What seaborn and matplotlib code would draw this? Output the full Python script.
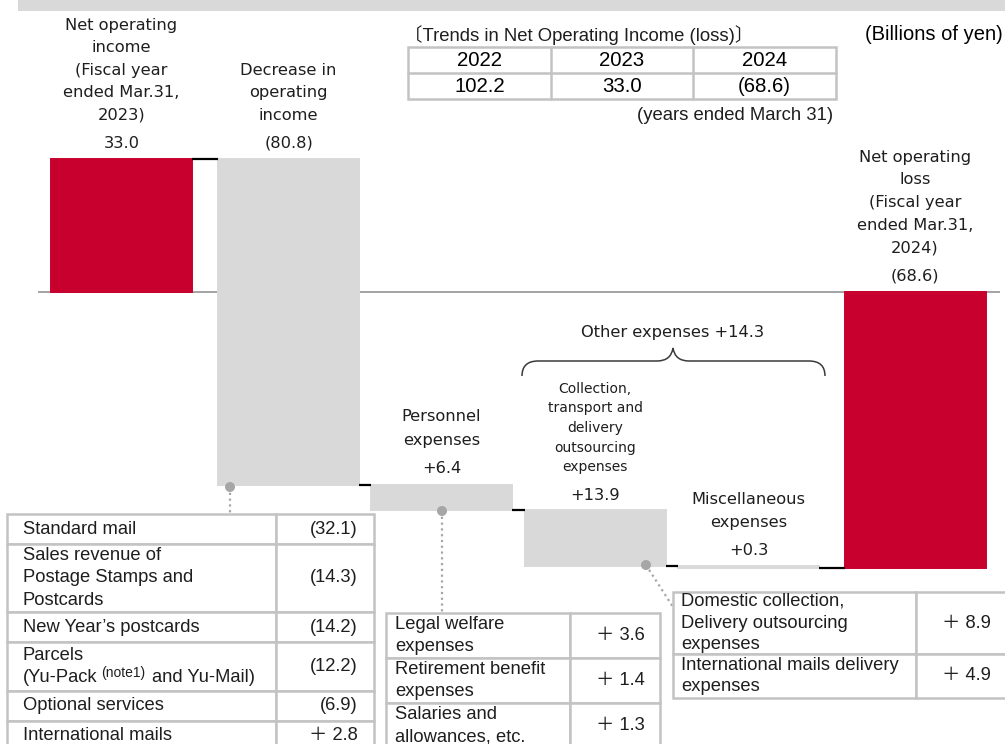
import numpy as np
import pandas as pd
import matplotlib
matplotlib.use("Agg")
import matplotlib.pyplot as plt
import seaborn as sns
from matplotlib.patches import Rectangle, Circle, PathPatch
from matplotlib.path import Path

# ---------------- data (billions of yen) ----------------
step_names = [
    "Net operating\nincome\n(Fiscal year\nended Mar.31,\n2023)",
    "Decrease in\noperating\nincome",
    "Personnel\nexpenses",
    "Collection,\ntransport and\ndelivery\noutsourcing\nexpenses",
    "Miscellaneous\nexpenses",
    "Net operating\nloss\n(Fiscal year\nended Mar.31,\n2024)",
]
start_income = 33.0
revenue_change = -80.8
expense_increases = [6.4, 13.9, 0.3]
end_income = -68.6
other_expenses_label = "Other expenses"
other_expenses_total = 14.3

trend_title = "〔Trends in Net Operating Income (loss)〕"
trend_years = ["2022", "2023", "2024"]
trend_values = [102.2, 33.0, -68.6]
trend_note = "(years ended March 31)"
unit_note = "(Billions of yen)"

revenue_items = [
    "Standard mail",
    "Sales revenue of\nPostage Stamps and\nPostcards",
    "New Year’s postcards",
    "Parcels\n(Yu-Pack [note1] and Yu-Mail)",
    "Optional services",
    "International mails",
]
revenue_values = [-32.1, -14.3, -14.2, -12.2, -6.9, 2.8]

personnel_items = [
    "Legal welfare\nexpenses",
    "Retirement benefit\nexpenses",
    "Salaries and\nallowances, etc.",
]
personnel_values = [3.6, 1.4, 1.3]

outsourcing_items = [
    "Domestic collection,\nDelivery outsourcing\nexpenses",
    "International mails delivery\nexpenses",
]
outsourcing_values = [8.9, 4.9]

# ---------------- layout / style ----------------
W, H = 1005, 744
S = 4.03          # pixels per billion yen
Y0 = 292          # pixel row of the zero line
bar_centers = [121.5, 288.5, 441.5, 595.0, 748.5, 915.0]
BAR_W = 141
RED = "#c8002d"
GRAY = "#d9d9d9"
TXT = "#1e1e1e"
BORDER = "#c3c3c3"
DOT = "#a6a6a6"
name_sizes = [11.7, 11.7, 11.7, 10.0, 11.7, 11.7]
name_gaps = [22.5, 22.5, 24.0, 19.7, 23.0, 22.7]
value_gaps = [16, 16, 16, 15, 16, 16]

sns.set_theme(style="white")
LABEL_FONT = ["DejaVu Sans", "Noto Sans CJK JP"]
TABLE_FONT = ["Liberation Sans", "Noto Sans CJK JP"]
plt.rcParams["font.family"] = LABEL_FONT

fig = plt.figure(figsize=(W / 100, H / 100), dpi=100)
ax = fig.add_axes([0, 0, 1, 1])

# ---------------- waterfall ----------------
effects = [revenue_change] + [-e for e in expense_increases]
levels = start_income + np.cumsum(effects)
starts = np.array([0.0, start_income] + list(levels[:-1]) + [0.0])
ends = np.array([start_income] + list(levels) + [end_income])
kinds = ["total", "change", "change", "change", "change", "total"]
df = pd.DataFrame({"pos": bar_centers, "bottom": starts,
                   "height": ends - starts, "kind": kinds})

for kind, color in [("total", RED), ("change", GRAY)]:
    sub = df[df["kind"] == kind].sort_values("pos")
    unit = np.min(np.diff(sub["pos"].to_numpy())) if len(sub) > 1 else 1.0
    sns.barplot(data=sub, x="pos", y="height", orient="x", native_scale=True,
                width=BAR_W / unit, color=color, saturation=1, errorbar=None,
                bottom=sub["bottom"].to_numpy(), edgecolor=color,
                linewidth=1.4, zorder=2, ax=ax)

ax.hlines(0, 38, 1000, color="#8a8a8a", lw=1.1, zorder=1)
for i in range(len(bar_centers) - 1):
    ax.hlines(ends[i], bar_centers[i] + BAR_W / 2, bar_centers[i + 1] - BAR_W / 2,
              color="black", lw=1.6, zorder=3)


def fmt_paren(v):
    return f"({abs(v):.1f})" if v < 0 else f"{v:.1f}"


value_texts = ([fmt_paren(start_income), fmt_paren(revenue_change)]
               + [f"+{v:.1f}" for v in expense_increases] + [fmt_paren(end_income)])
tops = np.maximum(starts, ends)
for i, c in enumerate(bar_centers):
    ax.annotate(value_texts[i], (c, tops[i]), xytext=(0, value_gaps[i]),
                textcoords="offset pixels", ha="center", va="center",
                fontsize=11.7, color=TXT)
    for k, line in enumerate(reversed(step_names[i].split("\n"))):
        ax.annotate(line, (c, tops[i]),
                    xytext=(0, value_gaps[i] + 28 + k * name_gaps[i]),
                    textcoords="offset pixels", ha="center", va="center",
                    fontsize=name_sizes[i], color=TXT)

ax.set_xlim(0, W)
ax.set_ylim((Y0 - H) / S, Y0 / S)
ax.axis("off")

# ---------------- overlay in pixel coordinates ----------------
ov = fig.add_axes([0, 0, 1, 1])
ov.set_xlim(0, W)
ov.set_ylim(H, 0)
ov.axis("off")

# title band
ov.add_patch(Rectangle((18, -2), W - 18, 13, facecolor=GRAY, edgecolor="none"))

# units & trend table
ov.text(1003, 34, unit_note, ha="right", va="center", fontsize=14.5,
        family=TABLE_FONT, color="black")
ov.text(404, 35, trend_title, ha="left", va="center", fontsize=13.3,
        family=TABLE_FONT, color=TXT)
tx = [408, 551, 693, 836]
ty = [47, 73, 99]
ov.add_patch(Rectangle((tx[0], ty[0]), tx[-1] - tx[0], ty[-1] - ty[0],
                       facecolor="white", edgecolor=BORDER, lw=1.8))
ov.plot([tx[0], tx[-1]], [ty[1], ty[1]], color=BORDER, lw=1.8)
for xv in tx[1:-1]:
    ov.plot([xv, xv], [ty[0], ty[-1]], color=BORDER, lw=1.8)
for j, (yr, v) in enumerate(zip(trend_years, trend_values)):
    cx = (tx[j] + tx[j + 1]) / 2
    ov.text(cx, 60, yr, ha="center", va="center", fontsize=14.7,
            family=TABLE_FONT, color="black")
    ov.text(cx, 87, fmt_paren(v), ha="center", va="center", fontsize=14.7,
            family=TABLE_FONT, color="black")
ov.text(833, 115, trend_note, ha="right", va="center", fontsize=13.3,
        family=TABLE_FONT, color=TXT)

# other expenses brace
xl, xm, xr = 522, 673, 825
yb, yl, yc = 376, 361, 348
verts = [(xl, yb), (xl, yl), (xl + 16, yl), (xm - 16, yl), (xm - 2, yl), (xm, yc),
         (xm + 2, yl), (xm + 16, yl), (xr - 16, yl), (xr, yl), (xr, yb)]
codes = [Path.MOVETO, Path.CURVE3, Path.CURVE3, Path.LINETO, Path.CURVE3, Path.CURVE3,
         Path.CURVE3, Path.CURVE3, Path.LINETO, Path.CURVE3, Path.CURVE3]
ov.add_patch(PathPatch(Path(verts, codes), facecolor="none", edgecolor="#3a3a3a", lw=1.1))
ov.text(xm, 332, f"{other_expenses_label} +{other_expenses_total:.1f}",
        ha="center", va="center", fontsize=11.7, color=TXT)


def fmt_table(v):
    return f"({abs(v):.1f})" if v < 0 else f"＋ {v:.1f}"


def draw_table(x0, xdiv, x1, ytop, items, values, base, per, gap, tx0, vx):
    y = ytop
    for item, v in zip(items, values):
        lines = item.split("\n")
        h = base + per * (len(lines) - 1)
        ov.add_patch(Rectangle((x0, y), xdiv - x0, h, facecolor="white",
                               edgecolor=BORDER, lw=1.8, zorder=2))
        ov.add_patch(Rectangle((xdiv, y), x1 - xdiv, h, facecolor="white",
                               edgecolor=BORDER, lw=1.8, zorder=2))
        cy = y + h / 2
        first = cy - gap * (len(lines) - 1) / 2
        for k, line in enumerate(lines):
            ly = first + k * gap
            if "[note1]" in line:
                pre, post = line.split("[note1]")
                t1 = ov.text(tx0, ly, pre.rstrip(), ha="left", va="center",
                             fontsize=13.2, family=TABLE_FONT, color=TXT, zorder=3)
                t2 = ov.annotate("(note1)", xy=(1, 1), xycoords=t1, xytext=(4, 3),
                                 textcoords="offset pixels", ha="left", va="top",
                                 fontsize=10, family=TABLE_FONT, color=TXT, zorder=3)
                ov.annotate(post.lstrip(), xy=(1, 0), xycoords=(t2, t1), xytext=(6, 0),
                            textcoords="offset pixels", ha="left", va="bottom",
                            fontsize=13.2, family=TABLE_FONT, color=TXT, zorder=3)
            else:
                ov.text(tx0, ly, line, ha="left", va="center", fontsize=13.2,
                        family=TABLE_FONT, color=TXT, zorder=3)
        ov.text(vx, cy, fmt_table(v), ha="right", va="center", fontsize=13.2,
                family=TABLE_FONT, color=TXT, zorder=3)
        y += h


draw_table(7, 276, 374, 514, revenue_items, revenue_values, 30, 19, 22.5, 23, 358)
draw_table(386, 570, 660, 613, personnel_items, personnel_values, 27, 18, 22, 395, 645)
draw_table(673, 916, 1012, 592, outsourcing_items, outsourcing_values, 26, 18, 21.5, 681, 991)

# connector dots and dotted leader lines
for (x0, y0), (x1, y1) in [((230, 487), (230, 514)),
                           ((442, 511), (442, 613)),
                           ((646, 565), (673, 607))]:
    ov.plot([x0, x1], [y0, y1], color=DOT, lw=1.6, linestyle=(0, (1, 1.6)), zorder=1)
    ov.add_patch(Circle((x0, y0), 5, facecolor=DOT, edgecolor="none", zorder=4))

fig.savefig("out.png", dpi=100)
